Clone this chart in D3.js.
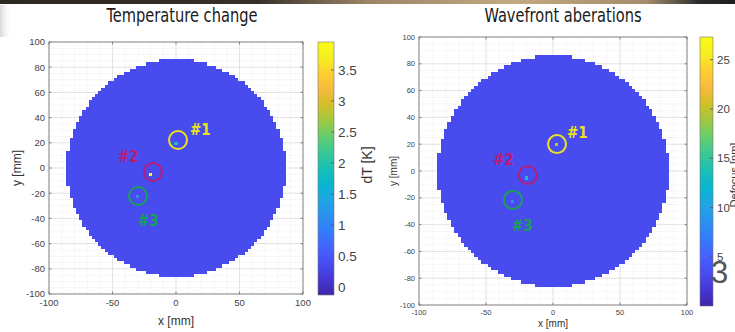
<!DOCTYPE html>
<html>
<head>
<meta charset="utf-8">
<script src="https://cdn.jsdelivr.net/npm/d3@7"></script>
<style>
  body { margin: 0; background: #fff; }
  svg { display: block; font-family: "Liberation Sans", Arial, sans-serif; }
</style>
</head>
<body>
<svg id="chart" width="735" height="332"></svg>
<script>
// ---- data ----
const xTicks = [-100, -50, 0, 50, 100];
const yTicks = [-100, -80, -60, -40, -20, 0, 20, 40, 60, 80, 100];
const diskRadius = 86;   // mm, measured edge of the sampled aperture
const cellSize = 2.5;    // mm, pixel pitch of the map

const tempBase = 0.36;               // dT [K] over the aperture
const tempRange = [-0.13, 3.95];
const tempTicks = [0, 0.5, 1, 1.5, 2, 2.5, 3, 3.5];

const waveBase = 3.3;                // Defocus [nm]
const waveRange = [0, 27.3];
const waveTicks = [5, 10, 15, 20, 25];

const spotLabels = ['#1', '#2', '#3'];
const spotColors = ['#ebe21c', '#b81c78', '#17a058'];
const tempSpotX = [1.6, -18.1, -29.9];
const tempSpotY = [22.2, -3.2, -22.2];
const tempSpotValues = [1.9, 3.9, 1.1];
const waveSpotX = [3.0, -18.7, -29.9];
const waveSpotY = [20.1, -3.0, -21.6];
const waveSpotValues = [20, 13.5, 8];

// MATLAB parula, every 4th entry of the 64 colour table
const parula = ['#3e26a8', '#4537d5', '#484df0', '#4563fd', '#327cfc', '#2b91ef', '#20a5e3',
  '#08b5d0', '#19bfb6', '#37c897', '#64cd6f', '#9dc943', '#d1bf27', '#f8ba3d', '#fccf30',
  '#f6ef20', '#f9fb15'];

const svg = d3.select('#chart');
const defs = svg.append('defs');

// dark photo strip along the top and faint page shadow at left
const strip = defs.append('linearGradient').attr('id', 'strip');
[['0%', '#2b2722'], ['35%', '#37302a'], ['50%', '#9c8566'], ['70%', '#c2a983'], ['88%', '#a48c6c'], ['95%', '#2c2c2c'], ['100%', '#1e1e1e']]
  .forEach(s => strip.append('stop').attr('offset', s[0]).attr('stop-color', s[1]));
svg.append('rect').attr('x', 0).attr('y', 0).attr('width', 735).attr('height', 4).attr('fill', 'url(#strip)');
const shade = defs.append('linearGradient').attr('id', 'shade');
shade.append('stop').attr('offset', '0%').attr('stop-color', '#d8d8d8');
shade.append('stop').attr('offset', '100%').attr('stop-color', '#fff').attr('stop-opacity', 0);
svg.append('rect').attr('x', 0).attr('y', 5).attr('width', 12).attr('height', 32).attr('fill', 'url(#shade)');

// aperture cells (grid of cells whose centres fall inside the disk)
const nCells = Math.ceil(2 * diskRadius / cellSize) + 1;
const cellCentres = [];
for (let i = 0; i < nCells; i++) {
  for (let j = 0; j < nCells; j++) {
    const cx = -diskRadius + cellSize * (i + 0.5) - 0.25;
    const cy = -diskRadius + cellSize * (j + 0.5) - 0.25;
    if (Math.hypot(cx, cy) <= diskRadius) cellCentres.push([cx, cy]);
  }
}

function drawPanel(p) {
  const x = d3.scaleLinear().domain([-100, 100]).range([p.x0, p.x1]);
  const y = d3.scaleLinear().domain([-100, 100]).range([p.y1, p.y0]);
  const cmap = d3.scaleLinear()
    .domain(parula.map((c, i) => p.range[0] + (p.range[1] - p.range[0]) * i / (parula.length - 1)))
    .range(parula).clamp(true);
  const g = svg.append('g');

  g.append('text').attr('x', p.titleX).attr('y', 22).attr('text-anchor', 'middle')
    .attr('textLength', p.titleW).attr('lengthAdjust', 'spacingAndGlyphs')
    .style('font-family', '"Liberation Sans Narrow", "DejaVu Sans Condensed", sans-serif')
    .style('font-size', '19px').attr('fill', '#1a1a1a').text(p.title);

  // minor (dotted) and major grid
  const grid = g.append('g').attr('stroke-width', 0.6);
  grid.selectAll('.mx').data(d3.range(-90, 100, 10)).join('line')
    .attr('x1', d => x(d)).attr('x2', d => x(d)).attr('y1', p.y0).attr('y2', p.y1)
    .attr('stroke', '#e4e4e4').attr('stroke-dasharray', '1,1');
  grid.selectAll('.my').data(d3.range(-95, 100, 5)).join('line')
    .attr('y1', d => y(d)).attr('y2', d => y(d)).attr('x1', p.x0).attr('x2', p.x1)
    .attr('stroke', '#e4e4e4').attr('stroke-dasharray', '1,1');
  grid.selectAll('.gx').data(xTicks).join('line')
    .attr('x1', d => x(d)).attr('x2', d => x(d)).attr('y1', p.y0).attr('y2', p.y1).attr('stroke', '#d6d6d6');
  grid.selectAll('.gy').data(yTicks).join('line')
    .attr('y1', d => y(d)).attr('y2', d => y(d)).attr('x1', p.x0).attr('x2', p.x1).attr('stroke', '#d6d6d6');

  // map cells
  const cw = x(cellSize) - x(0), ch = y(0) - y(cellSize);
  const hot = p.spotX.map((sx, k) => [Math.floor((sx + 0.25) / cellSize), Math.floor((p.spotY[k] + 0.25) / cellSize), p.spotValues[k]]);
  const valueAt = c => {
    const ix = Math.floor((c[0] + 0.25) / cellSize), iy = Math.floor((c[1] + 0.25) / cellSize);
    const h = hot.find(t => t[0] === ix && t[1] === iy);
    return h ? h[2] : p.base;
  };
  g.append('g').attr('shape-rendering', 'crispEdges').selectAll('rect').data(cellCentres).join('rect')
    .attr('x', d => x(d[0] - cellSize / 2)).attr('y', d => y(d[1] + cellSize / 2))
    .attr('width', cw + 0.4).attr('height', ch + 0.4)
    .attr('fill', d => cmap(valueAt(d)));

  // box and inward ticks
  g.append('rect').attr('x', p.x0).attr('y', p.y0).attr('width', p.x1 - p.x0).attr('height', p.y1 - p.y0)
    .attr('fill', 'none').attr('stroke', '#6e6e6e').attr('stroke-width', 0.8);
  const tl = 2.5;
  const tk = g.append('g').attr('stroke', '#6e6e6e').attr('stroke-width', 0.8);
  xTicks.forEach(d => {
    tk.append('line').attr('x1', x(d)).attr('x2', x(d)).attr('y1', p.y1).attr('y2', p.y1 - tl);
    tk.append('line').attr('x1', x(d)).attr('x2', x(d)).attr('y1', p.y0).attr('y2', p.y0 + tl);
  });
  yTicks.forEach(d => {
    tk.append('line').attr('y1', y(d)).attr('y2', y(d)).attr('x1', p.x0).attr('x2', p.x0 + tl);
    tk.append('line').attr('y1', y(d)).attr('y2', y(d)).attr('x1', p.x1).attr('x2', p.x1 - tl);
  });

  const labs = g.append('g').attr('fill', '#444').style('font-size', p.tickFont + 'px');
  labs.selectAll('.xl').data(xTicks).join('text')
    .attr('x', d => x(d)).attr('y', p.y1 + p.tickFont + 2).attr('text-anchor', 'middle').text(d => d);
  labs.selectAll('.yl').data(yTicks).join('text')
    .attr('x', p.x0 - 4).attr('y', d => y(d) + p.tickFont * 0.35).attr('text-anchor', 'end').text(d => d);

  g.append('text').attr('x', (p.x0 + p.x1) / 2).attr('y', p.xLabelY).attr('text-anchor', 'middle')
    .style('font-size', p.labelFont + 'px').attr('fill', '#333').text('x [mm]');
  g.append('text').attr('transform', `translate(${p.yLabelX},${(p.y0 + p.y1) / 2}) rotate(-90)`)
    .attr('text-anchor', 'middle').style('font-size', p.labelFont + 'px').attr('fill', '#333').text('y [mm]');

  // colour bar
  const cb = d3.scaleLinear().domain(p.range).range([p.cb.y1, p.cb.y0]);
  const gid = 'cb' + p.id;
  const lg = defs.append('linearGradient').attr('id', gid).attr('x1', 0).attr('x2', 0).attr('y1', 1).attr('y2', 0);
  parula.forEach((c, i) => lg.append('stop').attr('offset', i / (parula.length - 1)).attr('stop-color', c));
  g.append('rect').attr('x', p.cb.x).attr('y', p.cb.y0).attr('width', p.cb.w).attr('height', p.cb.y1 - p.cb.y0)
    .attr('fill', `url(#${gid})`).attr('stroke', '#777').attr('stroke-width', 0.6);
  const cbt = g.append('g');
  p.ticks.forEach(t => {
    cbt.append('line').attr('x1', p.cb.x + p.cb.w).attr('x2', p.cb.x + p.cb.w - 3)
      .attr('y1', cb(t)).attr('y2', cb(t)).attr('stroke', '#555').attr('stroke-width', 0.8);
    cbt.append('text').attr('x', p.cb.x + p.cb.w + 4).attr('y', cb(t) + p.cbFont * 0.36)
      .style('font-size', p.cbFont + 'px').attr('fill', '#444').text(t);
  });
  g.append('text').attr('transform', `translate(${p.cbLabelX},${p.cbLabelY}) rotate(-90)`)
    .attr('text-anchor', 'middle').style('font-size', p.cbLabelFont + 'px').attr('fill', '#333').text(p.cbLabel);

  // marked spots
  const r = p.circleR;
  p.spotX.forEach((sx, k) => {
    g.append('circle').attr('cx', x(sx)).attr('cy', y(p.spotY[k])).attr('r', r)
      .attr('fill', 'none').attr('stroke', spotColors[k]).attr('stroke-width', 2);
    g.append('text').attr('x', x(sx) + p.labelOff[k][0]).attr('y', y(p.spotY[k]) + p.labelOff[k][1])
      .style('font-family', '"DejaVu Sans Condensed", "DejaVu Sans", sans-serif')
      .style('font-weight', 'bold').style('font-size', '15px')
      .attr('fill', spotColors[k]).text(spotLabels[k]);
  });
}

drawPanel({
  id: 'T', title: 'Temperature change', titleX: 182, titleW: 151,
  x0: 49, x1: 303, y0: 42, y1: 294,
  base: tempBase, range: tempRange, ticks: tempTicks,
  spotX: tempSpotX, spotY: tempSpotY, spotValues: tempSpotValues,
  tickFont: 9.5, labelFont: 12, xLabelY: 325, yLabelX: 21,
  cb: { x: 318, w: 16, y0: 42, y1: 295 }, cbFont: 13.5,
  cbLabel: 'dT [K]', cbLabelX: 372, cbLabelY: 165, cbLabelFont: 14,
  circleR: 9, labelOff: [[12, -5], [-35, -10], [0, 30]]
});

drawPanel({
  id: 'W', title: 'Wavefront aberations', titleX: 563, titleW: 157,
  x0: 419, x1: 687, y0: 37, y1: 305,
  base: waveBase, range: waveRange, ticks: waveTicks,
  spotX: waveSpotX, spotY: waveSpotY, spotValues: waveSpotValues,
  tickFont: 7.5, labelFont: 10, xLabelY: 327, yLabelX: 397,
  cb: { x: 700, w: 13, y0: 37, y1: 306 }, cbFont: 11.5,
  cbLabel: 'Defocus [nm]', cbLabelX: 738, cbLabelY: 175, cbLabelFont: 11,
  circleR: 9, labelOff: [[10, -6], [-35, -10], [-1, 31]]
});

// slide page number overlapping the colour bar
svg.append('text').attr('x', 711).attr('y', 283)
  .style('font-family', '"Liberation Sans Narrow", sans-serif').style('font-size', '31px')
  .attr('fill', '#555').text('3');
</script>
</body>
</html>
